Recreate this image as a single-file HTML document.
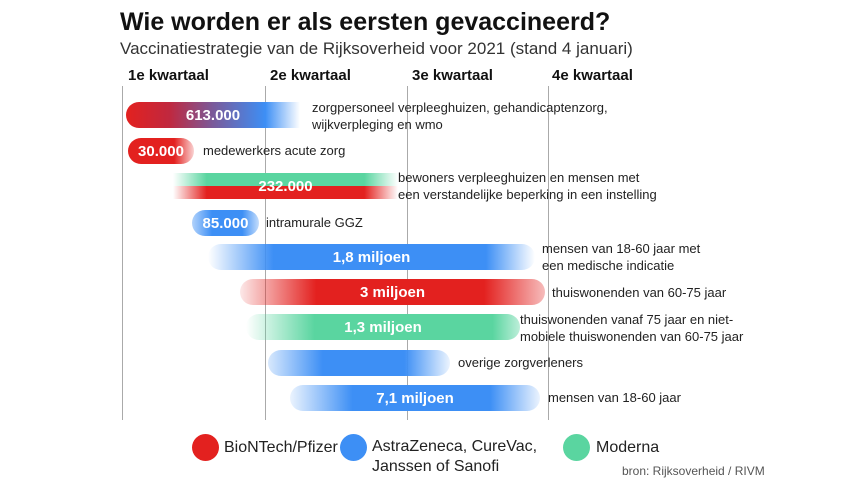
<!DOCTYPE html><html><head><meta charset="utf-8"><style>
body{margin:0;width:860px;height:484px;background:#fff;font-family:"Liberation Sans",sans-serif;position:relative;overflow:hidden;color:#111}
.a{position:absolute;white-space:nowrap}
.g{position:absolute;top:86px;height:334px;width:1px;background:#aaa}
.b{position:absolute;height:26px;border-radius:13px;color:#fff;font-weight:bold;font-size:15px;line-height:28px;text-align:center}
.t{position:absolute;font-size:13px;line-height:17px;color:#222;white-space:nowrap}
.h{position:absolute;top:67px;font-weight:bold;font-size:15px}
.c{position:absolute;width:27px;height:27px;border-radius:50%;top:434px}
.l{position:absolute;font-size:16px;line-height:20px;color:#222;white-space:nowrap}
</style></head><body>
<div class="a" style="left:120px;top:8px;font-size:25px;font-weight:bold">Wie worden er als eersten gevaccineerd?</div>
<div class="a" style="left:120px;top:39px;font-size:17px;color:#333">Vaccinatiestrategie van de Rijksoverheid voor 2021 (stand 4 januari)</div>
<div class="h" style="left:128px">1e kwartaal</div>
<div class="h" style="left:270px">2e kwartaal</div>
<div class="h" style="left:412px">3e kwartaal</div>
<div class="h" style="left:552px">4e kwartaal</div>
<div class="g" style="left:122px"></div><div class="g" style="left:265px"></div><div class="g" style="left:407px"></div><div class="g" style="left:548px"></div>

<div class="b" style="left:126px;top:102px;width:174px;border-radius:13px 0 0 13px;background:linear-gradient(90deg,#e3211f 0%,#c0283f 25%,#7a5a9a 50%,#3d8ff5 80%,rgba(61,143,245,0))">613.000</div>
<div class="t" style="left:312px;top:99px">zorgpersoneel verpleeghuizen, gehandicaptenzorg,<br>wijkverpleging en wmo</div>
<div class="b" style="left:128px;top:138px;width:66px;background:linear-gradient(90deg,#e3211f 70%,rgba(227,33,31,0.2))">30.000</div>
<div class="t" style="left:203px;top:142px">medewerkers acute zorg</div>
<div class="b" style="left:173px;top:173px;width:225px;height:13px;border-radius:0;background:linear-gradient(90deg,rgba(90,213,160,0),#5ad5a0 15%,#5ad5a0 85%,rgba(90,213,160,0))"></div>
<div class="b" style="left:173px;top:186px;width:225px;height:13px;border-radius:0;background:linear-gradient(90deg,rgba(227,33,31,0),#e3211f 15%,#e3211f 85%,rgba(227,33,31,0))"></div>
<div class="b" style="left:173px;top:173px;width:225px;height:26px;background:none">232.000</div>
<div class="t" style="left:398px;top:169px">bewoners verpleeghuizen en mensen met<br>een verstandelijke beperking in een instelling</div>
<div class="b" style="left:192px;top:210px;width:67px;background:linear-gradient(90deg,rgba(61,143,245,0.4),#3d8ff5 30%,#3d8ff5 75%,rgba(61,143,245,0.3))">85.000</div>
<div class="t" style="left:266px;top:214px">intramurale GGZ</div>
<div class="b" style="left:208px;top:244px;width:327px;background:linear-gradient(90deg,rgba(61,143,245,0),#3d8ff5 20%,#3d8ff5 85%,rgba(61,143,245,0))">1,8 miljoen</div>
<div class="t" style="left:542px;top:240px">mensen van 18-60 jaar met<br>een medische indicatie</div>
<div class="b" style="left:240px;top:279px;width:305px;background:linear-gradient(90deg,rgba(227,33,31,0.1),#e3211f 25%,#e3211f 80%,rgba(227,33,31,0.3))">3 miljoen</div>
<div class="t" style="left:552px;top:284px">thuiswonenden van 60-75 jaar</div>
<div class="b" style="left:246px;top:314px;width:274px;background:linear-gradient(90deg,rgba(90,213,160,0),#5ad5a0 25%,#5ad5a0 90%,rgba(90,213,160,0.4))">1,3 miljoen</div>
<div class="t" style="left:520px;top:311px">thuiswonenden vanaf 75 jaar en niet-<br>mobiele thuiswonenden van 60-75 jaar</div>
<div class="b" style="left:268px;top:350px;width:182px;background:linear-gradient(90deg,rgba(61,143,245,0.2),#3d8ff5 30%,#3d8ff5 75%,rgba(61,143,245,0.1))"></div>
<div class="t" style="left:458px;top:354px">overige zorgverleners</div>
<div class="b" style="left:290px;top:385px;width:250px;background:linear-gradient(90deg,rgba(61,143,245,0.1),#3d8ff5 25%,#3d8ff5 80%,rgba(61,143,245,0.1))">7,1 miljoen</div>
<div class="t" style="left:548px;top:389px">mensen van 18-60 jaar</div>

<div class="c" style="left:192px;background:#e3211f"></div>
<div class="l" style="left:224px;top:438px">BioNTech/Pfizer</div>
<div class="c" style="left:340px;background:#3d8ff5"></div>
<div class="l" style="left:372px;top:437px">AstraZeneca, CureVac,<br>Janssen of Sanofi</div>
<div class="c" style="left:563px;background:#5ad5a0"></div>
<div class="l" style="left:596px;top:438px">Moderna</div>
<div class="a" style="left:622px;top:464px;font-size:12px;color:#555">bron: Rijksoverheid / RIVM</div>
</body></html>
